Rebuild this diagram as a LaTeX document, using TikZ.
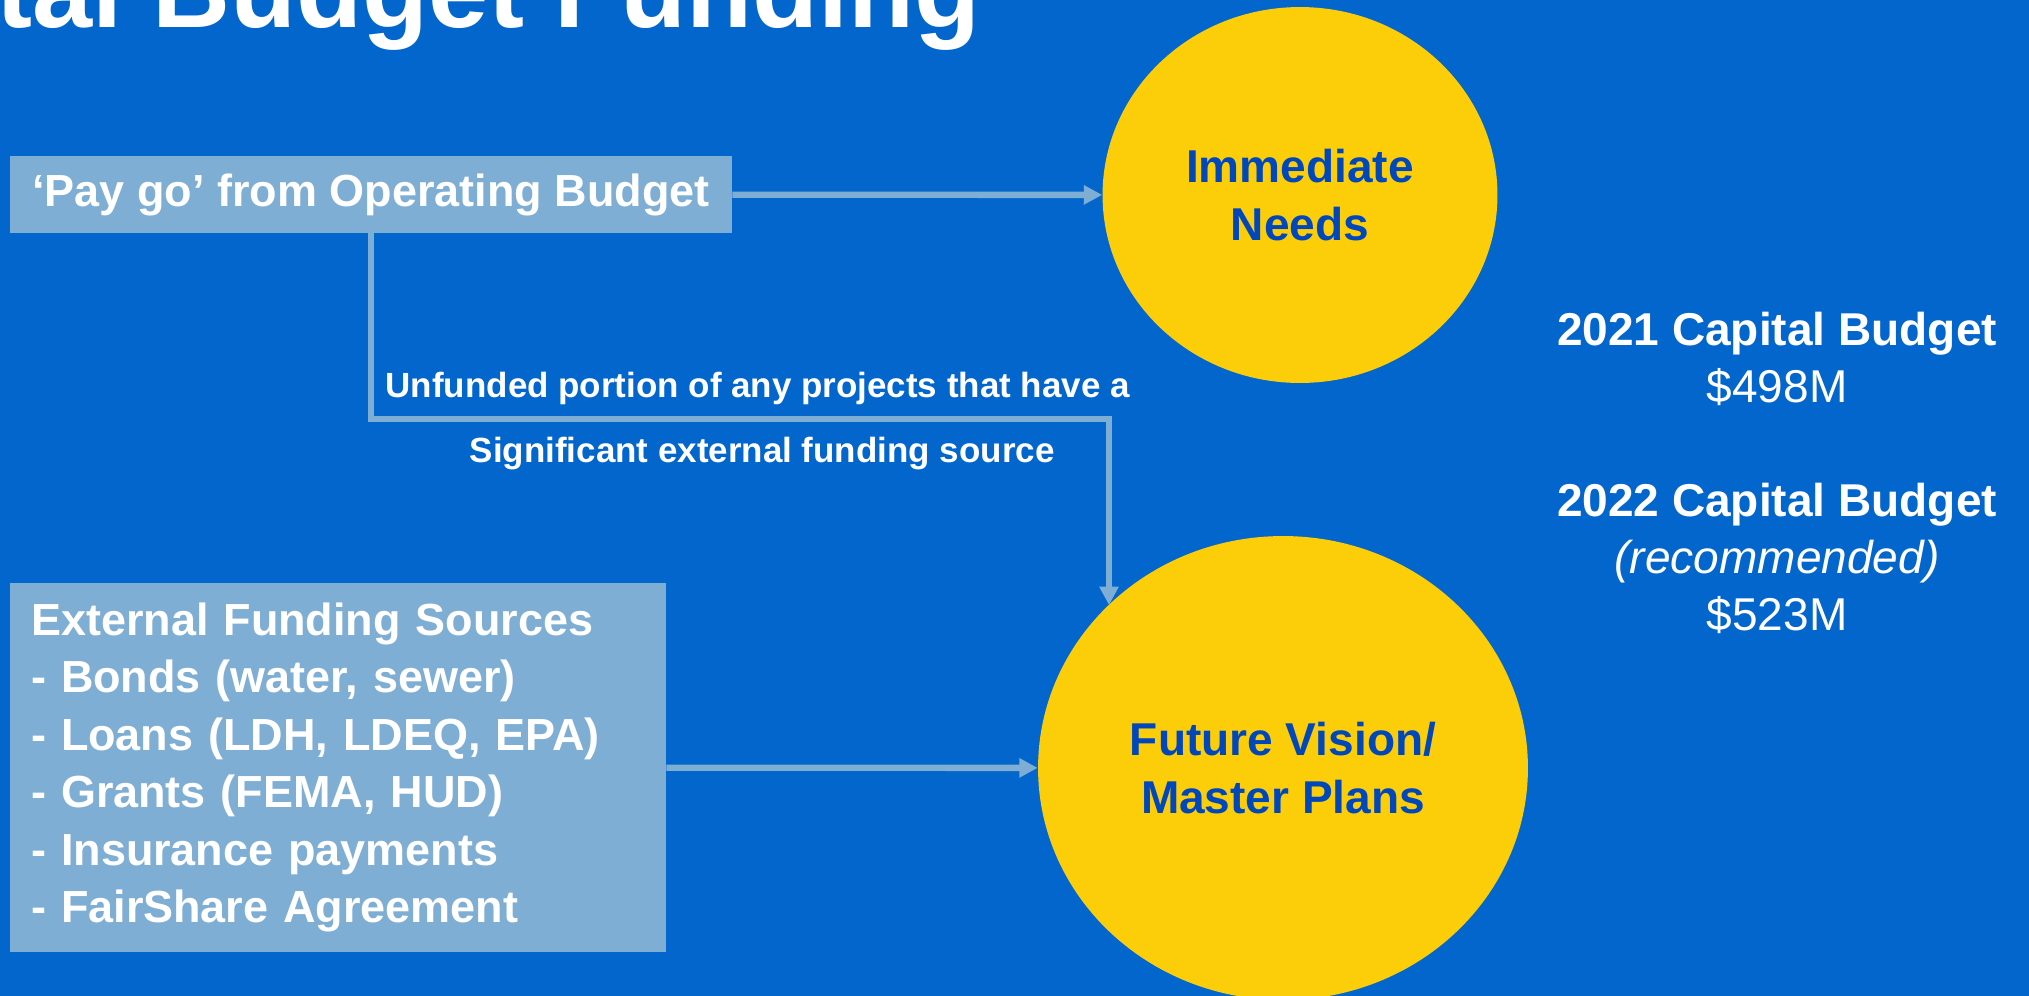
\documentclass[tikz,border=0pt]{standalone}
\usepackage{fontspec}
\setmainfont{Liberation Sans}
\usetikzlibrary{shapes.geometric,arrows.meta,calc,positioning}
\definecolor{bgblue}{HTML}{0366CC}
\definecolor{boxblue}{HTML}{7FAED4}
\definecolor{sunyellow}{HTML}{FCCE0A}
\definecolor{inkblue}{HTML}{0047BB}
\tikzset{
	srcbox/.style={fill=boxblue, text=white, inner sep=0pt,
		font=\bfseries\fontsize{25.6}{32.7}\selectfont},
	bubble/.style={ellipse, fill=sunyellow, text=inkblue, align=center, inner sep=0pt,
		font=\bfseries\fontsize{26.2}{33}\selectfont},
	flow/.style={draw=boxblue, line width=3.6pt, -{Triangle[length=10.5pt,width=10.5pt]}},
	flowlabel/.style={text=white, anchor=base, inner sep=0pt,
		font=\bfseries\fontsize{19.9}{24}\selectfont}
}

\begin{document}
\begin{tikzpicture}[x=0.02cm, y=-0.02cm]

% latar
\useasboundingbox (0,0) rectangle (2029,995);
\fill[bgblue] (-10,-10) rectangle (2039,1005);

% judul
\node[anchor=base west, inner sep=0pt, text=white, font=\bfseries\fontsize{61.5}{70}\selectfont] (title) at (-4,27) {tal Budget Funding};

% sumber dana
\node[srcbox, minimum width=14.44cm, minimum height=1.54cm] (paygo) at (371,194.5) {‘Pay go’ from Operating Budget};
\node[srcbox, minimum width=13.12cm, minimum height=7.38cm, text width=12.28cm, align=left] (extern) at (338,767.5)
	{External Funding Sources\\- Bonds (water, sewer)\\- Loans (LDH, LDEQ, EPA)\\- Grants (FEMA, HUD)\\- Insurance payments\\- FairShare Agreement};

% lingkaran
\node[bubble, minimum width=7.9cm, minimum height=7.52cm] (imm) at (1300,195) {Immediate\\Needs};
\node[bubble, minimum width=9.8cm, minimum height=9.28cm] (fut) at (1283,768) {Future Vision/\\Master Plans};

% anggaran
\node[anchor=north, align=center, text=white, inner sep=0pt, font=\fontsize{26.2}{32.4}\selectfont] (budget) at (1777,312)
	{{\bfseries 2021 Capital Budget}\\\$498M\\[32.4pt]{\bfseries 2022 Capital Budget}\\{\itshape (recommended)}\\\$523M};

% panah
\coordinate (bend) at (1109,419);
\draw[flow] (paygo) -- (imm);
\draw[flow] (extern) -- (fut);
\draw[flow] (paygo.south) -- (paygo.south |- bend)
	-- node[flowlabel, pos=0.524, yshift=12.5pt]{Unfunded portion of any projects that have a}
	node[flowlabel, pos=0.53, yshift=-25pt]{Significant external funding source} (bend)
	-- (bend |- fut.137);

\end{tikzpicture}
\end{document}
